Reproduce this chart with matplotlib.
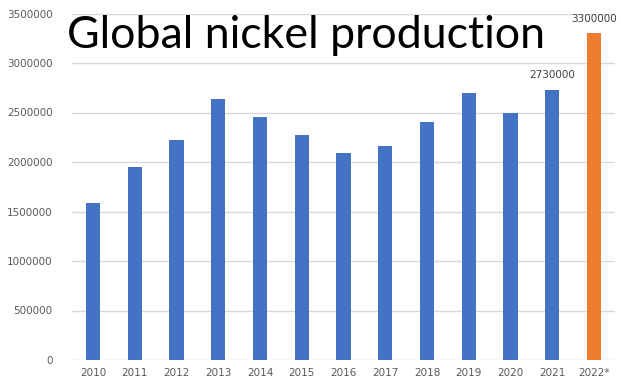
import matplotlib
matplotlib.use("Agg")
import matplotlib.pyplot as plt
import numpy as np

years = ["2010", "2011", "2012", "2013", "2014", "2015", "2016", "2017",
         "2018", "2019", "2020", "2021", "2022*"]
production = [1590000, 1950000, 2220000, 2640000, 2450000, 2270000, 2090000,
              2160000, 2400000, 2700000, 2500000, 2730000, 3300000]
yticks = [0, 500000, 1000000, 1500000, 2000000, 2500000, 3000000, 3500000]
labelled = {11: "2730000", 12: "3300000"}

blue = "#4472C4"
orange = "#ED7D31"
colors = [blue] * 12 + [orange]

fig = plt.figure(figsize=(6.21, 3.84), dpi=100)
ax = fig.add_axes([72 / 621, 1 - 360 / 384, 543 / 621, (360 - 13.5) / 384])

x = np.arange(len(years))
ax.bar(x, production, width=0.34, color=colors, zorder=3)
ax.set_xlim(-0.5, len(years) - 0.5)
ax.set_ylim(0, 3500000)
ax.set_yticks(yticks)
ax.set_yticklabels([str(v) for v in yticks])
ax.set_xticks(x)
ax.set_xticklabels(years)
ax.yaxis.grid(True, color="#D9D9D9", linewidth=1, zorder=0)
for s in ax.spines.values():
    s.set_visible(False)
ax.tick_params(axis="both", length=0, colors="#595959", labelsize=7.5)
ax.tick_params(axis="y", pad=14)
ax.tick_params(axis="x", pad=6)

for i, txt in labelled.items():
    ax.annotate(txt, (x[i], production[i]), xytext=(0, 7), textcoords="offset points",
                ha="center", va="bottom", fontsize=7.5, color="#404040")

fig.text(67 / 621, 1 - 36 / 384, "Global nickel production", fontsize=32.2,
         family="Lato", color="black", ha="left", va="center")

fig.savefig("out.png", dpi=100, facecolor="white")
